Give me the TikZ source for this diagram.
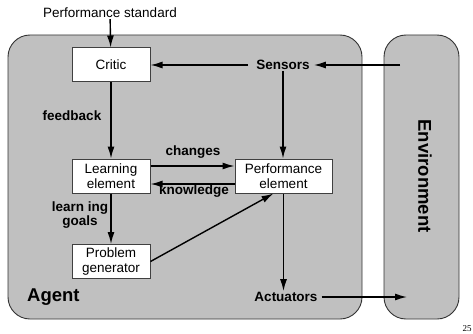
\documentclass[tikz,border=0pt]{standalone}
\usepackage{fontspec}
\setmainfont{Liberation Sans}
\newfontfamily\serifpage{Liberation Serif}
\usetikzlibrary{arrows.meta}
\definecolor{panel}{HTML}{C0C0C0}
\tikzset{
  region/.style={draw=black!80, line width=0.9pt, fill=panel, rounded corners=22pt},
  elembox/.style={draw=black!75, line width=1pt, fill=white, minimum height=34pt, align=center,
    font=\fontsize{13.5}{14.5}\selectfont, inner sep=1pt},
  arr/.style={line width=1.4pt, -{Latex[length=12pt,width=7pt]}},
  lbl/.style={font=\fontsize{13.5}{14}\selectfont\bfseries, align=center, inner sep=1pt},
  biglbl/.style={font=\fontsize{18.5}{20}\selectfont\bfseries, inner sep=0pt}
}
\begin{document}
\begin{tikzpicture}[x=1pt,y=-1pt]
\useasboundingbox (0,0) rectangle (473,334);
% regions
\draw[region] (8,35) rectangle (362,319);
\draw[region] (384,35) rectangle (459,319);
% nodes
\node[font=\fontsize{13.5}{14}\selectfont, inner sep=1pt] (std) at (110,13) {Performance standard};
\node[elembox, minimum width=78pt] (critic) at (111,65) {Critic};
\node[elembox, minimum width=78pt] (learn) at (111,176) {Learning\\element};
\node[elembox, minimum width=78pt] (pg) at (111,261.5) {Problem\\generator};
\node[elembox, minimum width=97pt] (perf) at (283.5,176) {Performance\\element};
\node[lbl, inner xsep=4pt] (sens) at (283,65) {Sensors};
\node[lbl, inner xsep=4pt] (act) at (286,297) {Actuators};
\node[lbl] (fb) at (72,116) {feedback};
\node[lbl] (chg) at (193,152) {changes};
\node[lbl] (knw) at (194,191) {knowledge};
\node[lbl] (lg) at (80,215) {learn ing\\goals};
\node[biglbl, anchor=west] (agent) at (27,297) {Agent};
\node[biglbl, rotate=-90] (env) at (425,176) {Environment};
\node[font=\serifpage\fontsize{9}{10}\selectfont, inner sep=0pt] (pnum) at (467,329) {25};
\coordinate (envin) at (400,65);
\coordinate (envout) at (407,297);
% connectors
\draw[arr] (std) -- (critic);
\draw[arr] (envin) -- (sens);
\draw[arr] ([xshift=-4pt]sens.west) -- (critic);
\draw[arr] (sens) -- (sens |- perf.north);
\draw[arr] (critic) -- (learn);
\draw[arr] ([yshift=10pt]learn.east) -- ([yshift=10pt]perf.west);
\draw[arr] ([yshift=-8pt]perf.west) -- ([yshift=-8pt]learn.east);
\draw[arr] (learn) -- (pg);
\draw[arr] (pg.east) -- ([xshift=-10pt]perf.south);
\draw[arr] (perf.south) -- (perf.south |- act.north);
\draw[arr] (act) -- (envout);
\end{tikzpicture}
\end{document}
